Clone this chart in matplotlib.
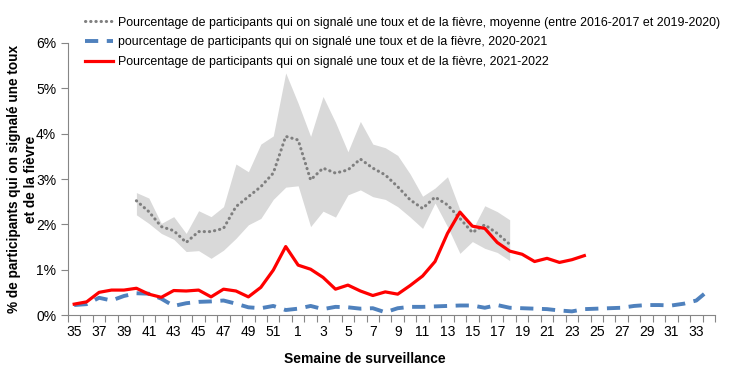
import matplotlib.pyplot as plt
import numpy as np

# Semaines de surveillance (35 -> 52, puis 1 -> 34)
weeks = list(range(35, 53)) + list(range(1, 35))
tick_labels = [str(w) for w in weeks[::2]]

# 2021-2022 (semaines 35 a 24)
cur_2122 = [0.24, 0.29, 0.50, 0.55, 0.55, 0.59, 0.46, 0.39, 0.54, 0.53,
            0.55, 0.40, 0.57, 0.53, 0.40, 0.61, 0.99, 1.51, 1.10, 1.01,
            0.83, 0.57, 0.66, 0.53, 0.43, 0.51, 0.46, 0.65, 0.86, 1.18,
            1.80, 2.27, 1.96, 1.91, 1.60, 1.41, 1.34, 1.18, 1.25, 1.16,
            1.22, 1.31]

# 2020-2021 (toute l'annee)
prev_2021 = [0.22, 0.24, 0.38, 0.32, 0.42, 0.48, 0.47, 0.36, 0.20, 0.26,
             0.29, 0.30, 0.32, 0.25, 0.17, 0.15, 0.20, 0.11, 0.14, 0.20,
             0.13, 0.18, 0.17, 0.14, 0.15, 0.06, 0.15, 0.18, 0.18, 0.19,
             0.20, 0.21, 0.21, 0.16, 0.22, 0.16, 0.15, 0.14, 0.13, 0.10,
             0.08, 0.13, 0.14, 0.15, 0.16, 0.20, 0.22, 0.22, 0.21, 0.25,
             0.32, 0.55]

# moyenne 2016-2017 a 2019-2020 et min/max (semaines 40 a 18)
avg_start = 5
avg = [2.52, 2.28, 1.95, 1.86, 1.60, 1.84, 1.84, 1.91, 2.39, 2.61,
       2.83, 3.13, 3.94, 3.86, 2.98, 3.24, 3.13, 3.20, 3.44, 3.24,
       3.09, 2.83, 2.54, 2.35, 2.60, 2.43, 2.13, 1.82, 1.99, 1.80,
       1.56]
hi = [2.70, 2.58, 2.02, 2.17, 1.80, 2.30, 2.17, 2.39, 3.33, 3.16,
      3.77, 3.95, 5.34, 4.67, 3.94, 4.82, 4.25, 3.60, 4.27, 3.77,
      3.69, 3.52, 3.11, 2.62, 2.80, 3.05, 2.32, 1.88, 2.41, 2.28,
      2.10]
lo = [2.21, 2.02, 1.80, 1.67, 1.40, 1.42, 1.25, 1.43, 1.69, 1.99,
      2.13, 2.55, 2.82, 2.85, 1.95, 2.29, 2.16, 2.65, 2.76, 2.61,
      2.55, 2.39, 2.16, 1.91, 2.47, 1.95, 1.36, 1.62, 1.47, 1.38,
      1.20]

labels = ["Pourcentage de participants qui on signalé une toux et de la fièvre, moyenne (entre 2016-2017 et 2019-2020)",
          "pourcentage de participants qui on signalé une toux et de la fièvre, 2020-2021",
          "Pourcentage de participants qui on signalé une toux et de la fièvre, 2021-2022"]

plt.rcParams['font.family'] = ['Liberation Sans', 'DejaVu Sans']

fig = plt.figure(figsize=(7.34, 3.69), dpi=100)
ax = fig.add_axes([0.0926, 0.1463, 0.8815, 0.7372])

x = np.arange(len(weeks))
xa = x[avg_start:avg_start + len(avg)]

ax.fill_between(xa, lo, hi, color='#d9d9d9', lw=0, zorder=1)
l1, = ax.plot(xa, avg, color='#7f7f7f', lw=2.2, ls=(0, (0.1, 1.6)),
              dash_capstyle='round', zorder=3)
l2, = ax.plot(x, prev_2021, color='#4f81bd', lw=2.8, ls=(0, (3.4, 2.2)), zorder=2)
l3, = ax.plot(x[:len(cur_2122)], cur_2122, color='#ff0000', lw=2.3, zorder=4)

ax.set_xlim(-0.5, len(weeks) - 0.5)
ax.set_ylim(0, 6)
ax.set_yticks(range(7))
ax.set_yticklabels([f"{v}%" for v in range(7)], fontsize=10)
ax.set_xticks(np.arange(-0.5, len(weeks), 1))
ax.set_xticklabels([])
ax.set_xticks(x[::2], minor=True)
ax.set_xticklabels(tick_labels, minor=True, fontsize=10)
ax.tick_params(axis='x', which='major', length=5, color='#868686')
ax.tick_params(axis='x', which='minor', length=0, pad=7)
ax.tick_params(axis='y', length=5, color='#868686')
for s in ['top', 'right']:
    ax.spines[s].set_visible(False)
for s in ['left', 'bottom']:
    ax.spines[s].set_color('#868686')

ax.set_xlabel("Semaine de surveillance", fontsize=10, fontweight='bold', labelpad=8)
ax.xaxis.set_label_coords(0.459, -0.135)
ax.set_ylabel("% de participants qui on signalé une toux\net de la fièvre",
              fontsize=9.8, fontweight='bold')
ax.yaxis.set_label_coords(-0.047, 0.5)

fig.legend([l1, l2, l3], labels, loc='upper left', bbox_to_anchor=(0.108, 0.972),
           frameon=False, fontsize=8.9, handlelength=2.25, handletextpad=0.4,
           labelspacing=0.62, borderpad=0)

fig.savefig('out.png', dpi=100)
